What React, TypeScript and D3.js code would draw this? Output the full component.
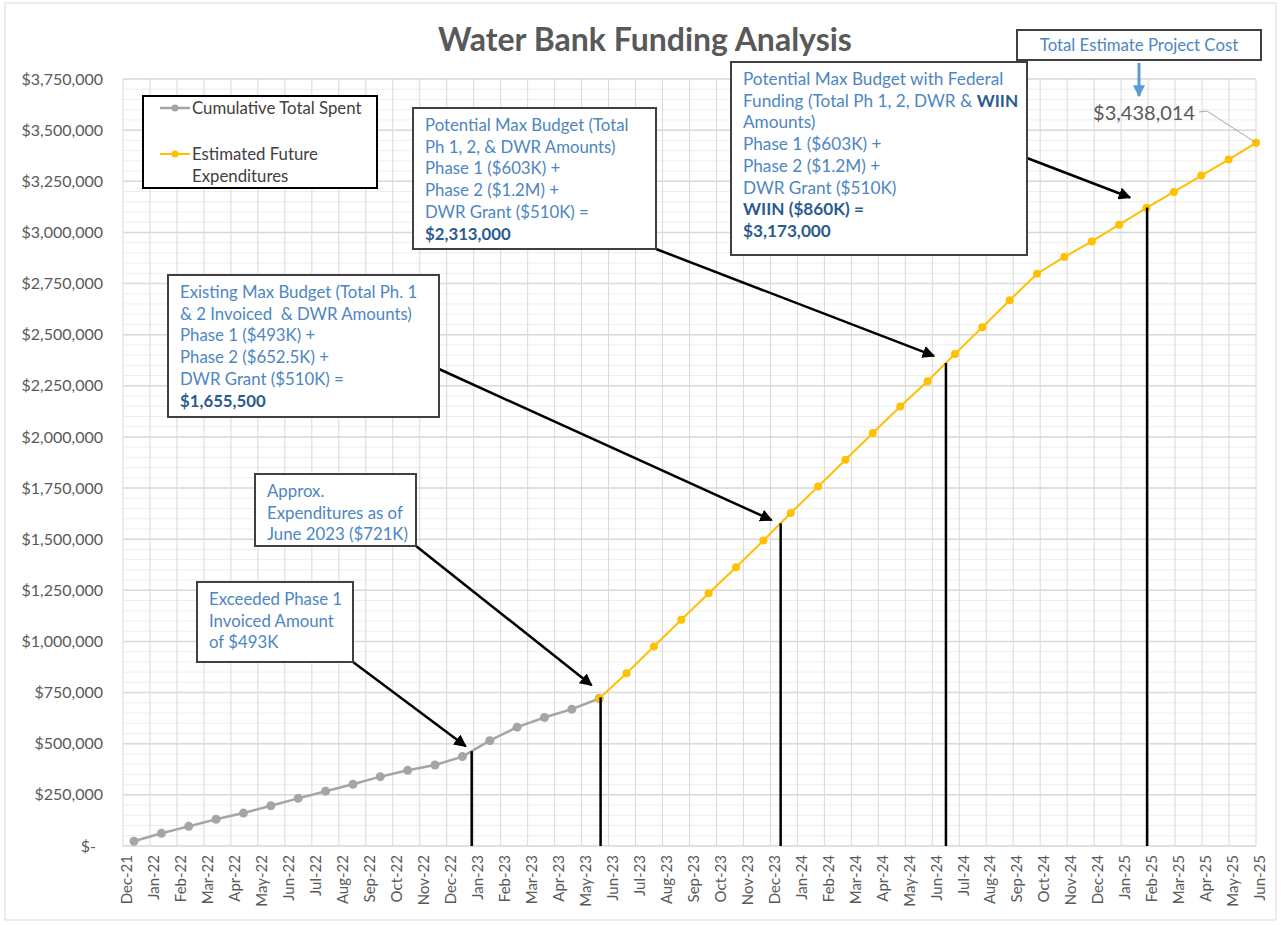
import React from "react";
import * as d3 from "d3";

// month labels on the date axis
const months = [
  "Dec-21", "Jan-22", "Feb-22", "Mar-22", "Apr-22", "May-22", "Jun-22", "Jul-22", "Aug-22",
  "Sep-22", "Oct-22", "Nov-22", "Dec-22", "Jan-23", "Feb-23", "Mar-23", "Apr-23", "May-23",
  "Jun-23", "Jul-23", "Aug-23", "Sep-23", "Oct-23", "Nov-23", "Dec-23", "Jan-24", "Feb-24",
  "Mar-24", "Apr-24", "May-24", "Jun-24", "Jul-24", "Aug-24", "Sep-24", "Oct-24", "Nov-24",
  "Dec-24", "Jan-25", "Feb-25", "Mar-25", "Apr-25", "May-25", "Jun-25",
];

// cumulative spent, Jan-22 .. Jun-23
const spentValues = [
  23000, 62000, 96000, 131000, 161000, 197000, 233000, 268000, 302000, 339000,
  370000, 396000, 437000, 515000, 581000, 628000, 669000, 721000,
];

// estimated future, Jun-23 .. Jun-25
const futureValues = [
  721000, 845000, 975000, 1106000, 1236000, 1363000, 1494000, 1628000, 1758000,
  1888000, 2019000, 2149000, 2272000, 2406000, 2536000, 2668000, 2798000, 2880000,
  2956000, 3038000, 3120000, 3198000, 3278000, 3356000, 3438014,
];

const yTicks = d3.range(0, 3750001, 250000);
const yMinor = d3.range(0, 3750001, 50000);

// budget markers: position along the series (point index)
const markerIdx = [12.34, 17.05, 23.63, 29.67, 37.02];

type Line = { t: string; b?: boolean; parts?: { t: string; b?: boolean }[] };
const notes: { x: number; y: number; w: number; h: number; fs: number; from: [number, number]; off: [number, number]; lines: Line[] }[] = [
  {
    x: 197, y: 582, w: 156, h: 80, fs: 16.8, from: [353, 662], off: [-6, -5],
    lines: [{ t: "Exceeded Phase 1" }, { t: "Invoiced Amount" }, { t: "of $493K" }],
  },
  {
    x: 255, y: 474, w: 161, h: 72, fs: 16.8, from: [416, 546], off: [-9, -12],
    lines: [{ t: "Approx." }, { t: "Expenditures as of" }, { t: "June 2023 ($721K)" }],
  },
  {
    x: 168, y: 275, w: 271, h: 142, fs: 16.8, from: [439, 369], off: [-9, -3],
    lines: [
      { t: "Existing Max Budget (Total Ph. 1" },
      { t: "& 2 Invoiced  & DWR Amounts)" },
      { t: "Phase 1 ($493K) +" },
      { t: "Phase 2 ($652.5K) +" },
      { t: "DWR Grant ($510K) =" },
      { t: "$1,655,500", b: true },
    ],
  },
  {
    x: 413, y: 108, w: 243, h: 141, fs: 16.8, from: [656, 249], off: [-12, -7],
    lines: [
      { t: "Potential Max Budget (Total" },
      { t: "Ph 1, 2, & DWR Amounts)" },
      { t: "Phase 1 ($603K) +" },
      { t: "Phase 2 ($1.2M) +" },
      { t: "DWR Grant ($510K) =" },
      { t: "$2,313,000", b: true },
    ],
  },
  {
    x: 731, y: 62, w: 296, h: 193, fs: 17.2, from: [1027, 158], off: [-17, -10],
    lines: [
      { t: "Potential Max Budget with Federal" },
      { t: "", parts: [{ t: "Funding (Total Ph 1, 2, DWR & " }, { t: "WIIN", b: true }] },
      { t: "Amounts)" },
      { t: "Phase 1 ($603K) +" },
      { t: "Phase 2 ($1.2M) +" },
      { t: "DWR Grant ($510K)" },
      { t: "WIIN ($860K) =", b: true },
      { t: "$3,173,000", b: true },
    ],
  },
];

const FONT = "Lato, 'Open Sans', sans-serif";
const BLUE = "#4d86c2";
const DARK_BLUE = "#2a5b8e";

export default function App() {
  const W = 1281, H = 925;
  const top = 79, bottom = 846, left = 123, right = 1256;

  const y = d3.scaleLinear().domain([0, 3750000]).range([bottom, top]);
  const xMonth = d3.scalePoint<string>().domain(months).range([left, right]);
  const pointMonths = months.slice(1);
  const xPt = d3.scalePoint<string>().domain(pointMonths).range([134, 1256]);
  const xIdx = d3.scaleLinear().domain([0, pointMonths.length - 1]).range([134, 1256]);

  const spent = spentValues.map((v, i) => ({ m: pointMonths[i], v }));
  const future = futureValues.map((v, i) => ({ m: pointMonths[i + spentValues.length - 1], v }));
  const allValues = spentValues.concat(futureValues.slice(1));

  const line = d3.line<{ m: string; v: number }>().x((d) => xPt(d.m)!).y((d) => y(d.v));

  const markers = markerIdx.map((p) => {
    const i = Math.floor(p);
    const v = d3.interpolateNumber(allValues[i], allValues[i + 1])(p - i);
    return { x: xIdx(p), y: y(v) };
  });

  const yFmt = (d: number) => (d === 0 ? "$-" : d3.format("$,")(d));
  const last = future[future.length - 1];

  return (
    <svg width={W} height={H} style={{ position: "absolute", left: 0, top: 0, background: "#fff" }} fontFamily={FONT}>
      <defs>
        <marker id="ah" viewBox="0 0 10 10" refX="9" refY="5" markerWidth="5" markerHeight="5" orient="auto">
          <path d="M0,0 L10,5 L0,10 z" fill="#000" />
        </marker>
        <marker id="ahb" viewBox="0 0 10 10" refX="9" refY="5" markerWidth="4" markerHeight="4" orient="auto">
          <path d="M0,0 L10,5 L0,10 z" fill="#5b9bd5" />
        </marker>
      </defs>
      <rect x={5} y={3} width={1271} height={917} fill="#fff" stroke="#d9d9d9" />

      <text x={645} y={51} textAnchor="middle" fontSize={32} fontWeight="bold" fill="#595959">
        Water Bank Funding Analysis
      </text>

      {/* gridlines */}
      {yMinor.map((v) => (
        <line key={"mn" + v} x1={left} x2={right} y1={y(v)} y2={y(v)} stroke="#eeeeee" strokeWidth={1} />
      ))}
      {months.map((m) => (
        <line key={"vg" + m} x1={xMonth(m)} x2={xMonth(m)} y1={top} y2={bottom} stroke="#d9d9d9" strokeWidth={1} />
      ))}
      {yTicks.map((v) => (
        <line key={"mj" + v} x1={left} x2={right} y1={y(v)} y2={y(v)} stroke="#d9d9d9" strokeWidth={1.5} />
      ))}

      {/* y labels */}
      {yTicks.map((v) => (
        <text key={"yl" + v} x={v === 0 ? 96 : 103} y={y(v)} dy="0.35em" textAnchor="end" fontSize={16} fill="#595959">
          {yFmt(v)}
        </text>
      ))}
      {/* x labels */}
      {months.map((m) => (
        <text key={"xl" + m} transform={`translate(${xMonth(m)! + 4},855) rotate(-90)`} textAnchor="end" dy="0.35em" fontSize={15} fill="#595959">
          {m}
        </text>
      ))}

      {/* series */}
      <path d={line(spent)!} fill="none" stroke="#a5a5a5" strokeWidth={2.5} />
      {spent.map((d) => (
        <circle key={"s" + d.m} cx={xPt(d.m)} cy={y(d.v)} r={4.5} fill="#a5a5a5" />
      ))}
      <path d={line(future)!} fill="none" stroke="#ffc000" strokeWidth={2} />
      {future.map((d) => (
        <circle key={"f" + d.m} cx={xPt(d.m)} cy={y(d.v)} r={4} fill="#ffc000" />
      ))}

      {/* budget markers */}
      {markers.map((mk, i) => (
        <line key={"mk" + i} x1={mk.x} x2={mk.x} y1={mk.y} y2={bottom} stroke="#000" strokeWidth={2.5} />
      ))}

      {/* callouts */}
      {notes.map((n, i) => (
        <g key={"n" + i}>
          <line x1={n.from[0]} y1={n.from[1]} x2={markers[i].x + n.off[0]} y2={markers[i].y + n.off[1]} stroke="#000" strokeWidth={2.5} markerEnd="url(#ah)" />
          <rect x={n.x} y={n.y} width={n.w} height={n.h} fill="#fff" stroke="#404040" strokeWidth={2} />
          {n.lines.map((l, j) => (
            <text key={j} x={n.x + 12} y={n.y + 23 + j * 21.7} fontSize={n.fs} fill={l.b ? DARK_BLUE : BLUE} fontWeight={l.b ? "bold" : "normal"} style={{ whiteSpace: "pre" }}>
              {l.parts
                ? l.parts.map((p, k) => (
                    <tspan key={k} fill={p.b ? DARK_BLUE : BLUE} fontWeight={p.b ? "bold" : "normal"}>{p.t}</tspan>
                  ))
                : l.t}
            </text>
          ))}
        </g>
      ))}

      {/* legend */}
      <rect x={143} y={96} width={234} height={92} fill="#fff" stroke="#000" strokeWidth={2} />
      <line x1={160} x2={190} y1={108} y2={108} stroke="#a5a5a5" strokeWidth={2.5} />
      <circle cx={175} cy={108} r={3.5} fill="#a5a5a5" />
      <text x={192} y={108} dy="0.35em" fontSize={16.8} fill="#404040">Cumulative Total Spent</text>
      <line x1={160} x2={190} y1={154} y2={154} stroke="#ffc000" strokeWidth={2} />
      <circle cx={175} cy={154} r={3.5} fill="#ffc000" />
      <text x={192} y={154} dy="0.35em" fontSize={16.8} fill="#404040">Estimated Future</text>
      <text x={192} y={176} dy="0.35em" fontSize={16.8} fill="#404040">Expenditures</text>

      {/* total estimate callout */}
      <rect x={1017} y={30} width={244} height={30} fill="#fff" stroke="#404040" strokeWidth={2} />
      <text x={1139} y={45} dy="0.35em" textAnchor="middle" fontSize={16.8} fill={BLUE}>Total Estimate Project Cost</text>
      <line x1={1139} x2={1139} y1={63} y2={96} stroke="#5b9bd5" strokeWidth={3} markerEnd="url(#ahb)" />

      {/* last value label */}
      <text x={1195} y={113} dy="0.35em" textAnchor="end" fontSize={20} fill="#595959">{d3.format("$,")(last.v)}</text>
      <polyline points={`1199,112 1207,111 ${xPt(last.m)},${y(last.v)}`} fill="none" stroke="#a6a6a6" strokeWidth={1} />
    </svg>
  );
}
